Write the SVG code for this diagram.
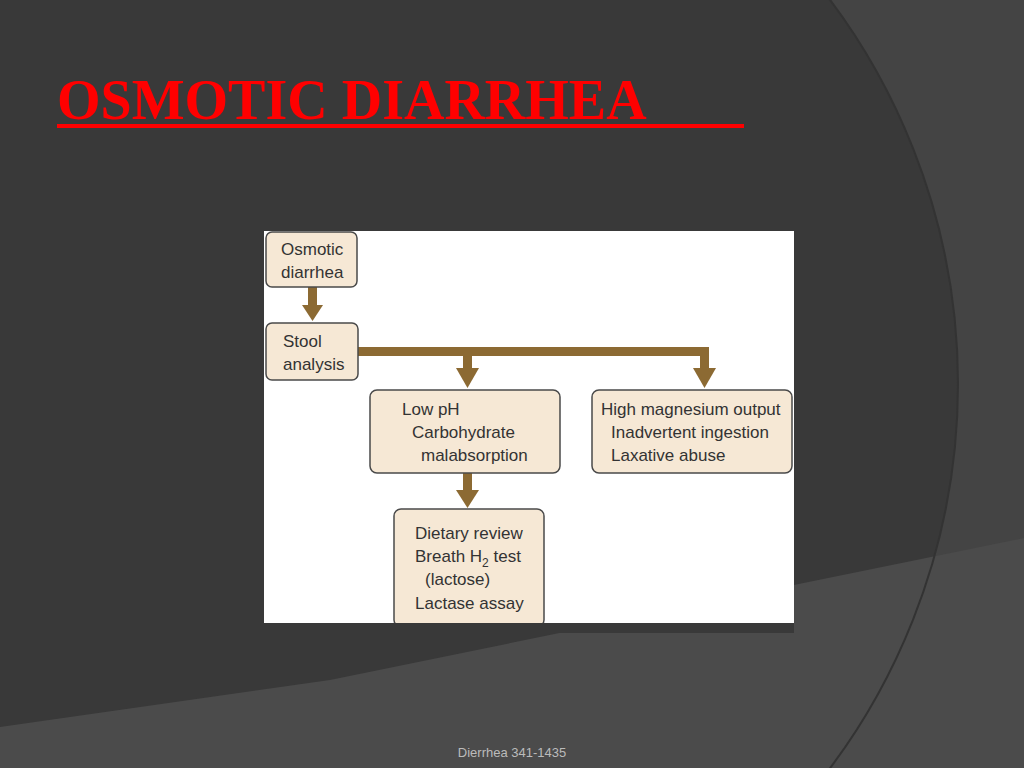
<svg xmlns="http://www.w3.org/2000/svg" width="1024" height="768" viewBox="0 0 1024 768">
<style>
.bx{fill:#f6e8d5;stroke:#4a4a4a;stroke-width:1.5}
.t{font-family:"Liberation Sans",Arial,sans-serif;font-size:17px;fill:#333}
.br{fill:#8c6a33}
</style>
<defs><clipPath id="cp"><rect x="0" y="0" width="1024" height="768"/></clipPath></defs>
<rect width="1024" height="768" fill="#444"/>
<circle cx="318" cy="384" r="640" fill="#393939"/>
<path d="M0 727 L330 680 L1024 538 L1024 768 L0 768Z" fill="#4b4b4b"/>
<circle cx="318" cy="384" r="640" fill="none" stroke="#333" stroke-width="2"/>
<text x="57" y="119" font-family="Liberation Serif,serif" font-weight="bold" font-size="56" fill="#ff0000">OSMOTIC DIARRHEA</text>
<rect x="57" y="124" width="687" height="4" fill="#ff0000"/>
<rect x="264" y="231" width="530" height="392" fill="#fff"/>
<g id="connectors">
<rect class="br" x="308" y="287" width="9" height="20"/><polygon class="br" points="302,305 323,305 312.5,321"/>
<rect class="br" x="358" y="347" width="351" height="9"/>
<rect class="br" x="463" y="350" width="9" height="19"/><polygon class="br" points="456,368 479,368 467.5,388"/>
<rect class="br" x="700" y="350" width="9" height="19"/><polygon class="br" points="693,368 716,368 704.5,388"/>
<rect class="br" x="463" y="473" width="9" height="19"/><polygon class="br" points="456,490 479,490 467.5,508"/>
</g>
<g id="n1"><rect class="bx" x="266" y="232" width="91" height="55" rx="6"/><text class="t" x="281" y="255">Osmotic</text><text class="t" x="281" y="278">diarrhea</text></g>
<g id="n2"><rect class="bx" x="266" y="323" width="92" height="57" rx="6"/><text class="t" x="283" y="347">Stool</text><text class="t" x="283" y="370">analysis</text></g>
<g id="n3"><rect class="bx" x="370" y="390" width="190" height="83" rx="7"/><text class="t" x="402" y="415">Low pH</text><text class="t" x="412" y="438">Carbohydrate</text><text class="t" x="421" y="461">malabsorption</text></g>
<g id="n4"><rect class="bx" x="592" y="390" width="200" height="83" rx="7"/><text class="t" x="601" y="415">High magnesium output</text><text class="t" x="611" y="438">Inadvertent ingestion</text><text class="t" x="611" y="461">Laxative abuse</text></g>
<g id="n5"><rect class="bx" x="394" y="509" width="150" height="118" rx="7"/><text class="t" x="415" y="539">Dietary review</text><text class="t" x="415" y="562">Breath H<tspan font-size="12" dy="5">2</tspan><tspan dy="-5"> test</tspan></text><text class="t" x="425" y="585">(lactose)</text><text class="t" x="415" y="609">Lactase assay</text></g>
<rect x="264" y="623" width="530" height="10" fill="#393939"/>
<text x="512" y="757" text-anchor="middle" font-family="Liberation Sans,Arial,sans-serif" font-size="13" fill="#bbb">Dierrhea 341-1435</text>
</svg>
